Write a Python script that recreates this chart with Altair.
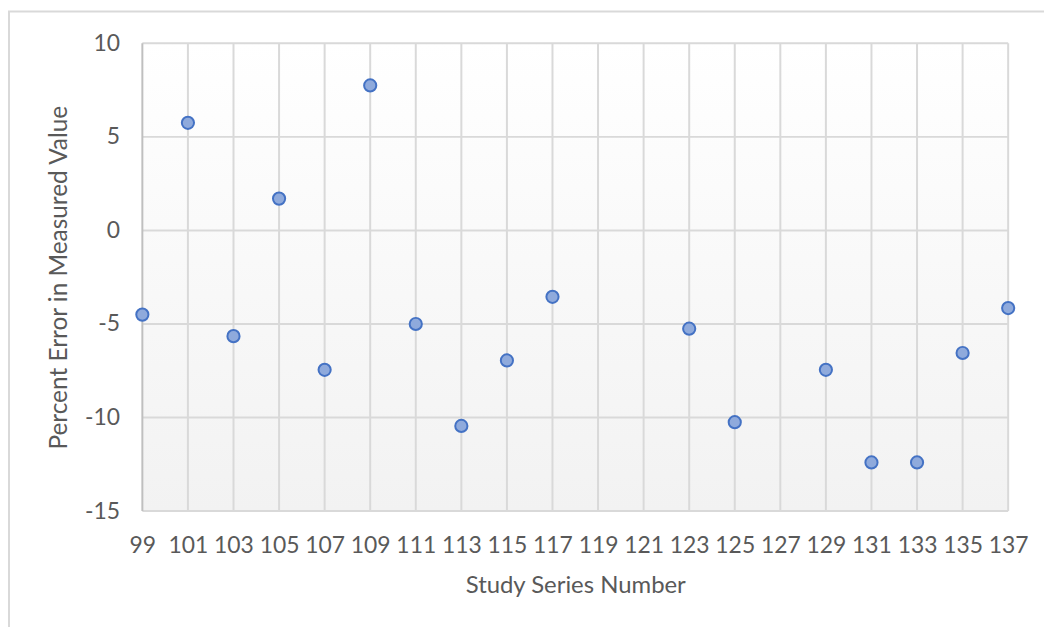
import altair as alt
import pandas as pd

# ---- data ----
series = [99, 101, 103, 105, 107, 109, 111, 113, 115, 117, 123, 125, 129, 131, 133, 135, 137]
pct_error = [-4.5, 5.75, -5.65, 1.7, -7.45, 7.75, -5.0, -10.45, -6.95, -3.55,
             -5.25, -10.25, -7.45, -12.4, -12.4, -6.55, -4.15]
x_ticks = list(range(99, 138, 2))
y_ticks = [-15, -10, -5, 0, 5, 10]
x_title = "Study Series Number"
y_title = "Percent Error in Measured Value"

W, H = 870, 470
FONT = "Lato"
TXT = "#595959"
GRID = "#d9d9d9"
AXISLINE = "#bfbfbf"

df = pd.DataFrame({"series": series, "err": pct_error})
xs = alt.Scale(domain=[99, 137], nice=False, zero=False)
ys = alt.Scale(domain=[-15, 10], nice=False, zero=False)

xaxis = alt.Axis(values=x_ticks, grid=False, domain=False, ticks=False,
                 labelExpr="toString(datum.value)",
                 labelFont=FONT, labelFontSize=23, labelColor=TXT, labelPadding=24,
                 title=x_title, titleFont=FONT, titleFontSize=24, titleFontWeight="normal",
                 titleColor=TXT, titleX=435, titleY=75, titleBaseline="middle",
                 titleAlign="center", labelFlush=False, labelOverlap=False)
yaxis = alt.Axis(values=y_ticks, grid=False, domain=False, ticks=False,
                 labelExpr="toString(datum.value)",
                 labelFont=FONT, labelFontSize=23, labelColor=TXT, labelPadding=23,
                 title=y_title, titleFont=FONT, titleFontSize=24.5, titleFontWeight="normal",
                 titleColor=TXT, titleX=-83, titleY=H / 2, titleAngle=270,
                 titleBaseline="middle", titleAlign="center", labelFlush=False)


def X(field):
    return alt.X(field, type="quantitative", scale=xs, axis=xaxis)


def Y(field):
    return alt.Y(field, type="quantitative", scale=ys, axis=yaxis)


one = pd.DataFrame({"a": [0]})

border = alt.Chart(one).mark_rect(fill=None, stroke=GRID, strokeWidth=2).encode(
    x=alt.value(-134), x2=alt.value(W + 300), y=alt.value(-32), y2=alt.value(H + 300)
)

bg = alt.Chart(one).mark_rect(
    color=alt.Gradient(
        gradient="linear", x1=0, y1=0, x2=0, y2=1,
        stops=[alt.GradientStop(offset=0, color="#ffffff"),
               alt.GradientStop(offset=1, color="#f2f2f2")],
    )
).encode(x=alt.value(0), x2=alt.value(W), y=alt.value(0), y2=alt.value(H))

vgrid = alt.Chart(pd.DataFrame({"gx": x_ticks[1:]})).mark_rule(
    color=GRID, strokeWidth=2).encode(x=X("gx"))
hgrid = alt.Chart(pd.DataFrame({"gy": y_ticks[1:]})).mark_rule(
    color=GRID, strokeWidth=2).encode(y=Y("gy"))
xline = alt.Chart(pd.DataFrame({"gy": [y_ticks[0]]})).mark_rule(
    color=GRID, strokeWidth=2).encode(y=Y("gy"))
yline = alt.Chart(pd.DataFrame({"gx": [x_ticks[0]]})).mark_rule(
    color=AXISLINE, strokeWidth=2).encode(x=X("gx"))

points = alt.Chart(df).mark_point(
    shape="circle", filled=True, fill="#8faadc", stroke="#4472c4",
    strokeWidth=2, size=150, opacity=1, fillOpacity=1
).encode(x=X("series"), y=Y("err"))

chart = alt.layer(border, bg, vgrid, hgrid, xline, yline, points).properties(
    width=W, height=H,
    autosize=alt.AutoSizeParams(type="none"),
    padding={"left": 135, "top": 34, "right": 36, "bottom": 115},
    background="white",
).configure_view(stroke=None)

chart.save("out.html", embed_options={"renderer": "svg", "actions": False})
